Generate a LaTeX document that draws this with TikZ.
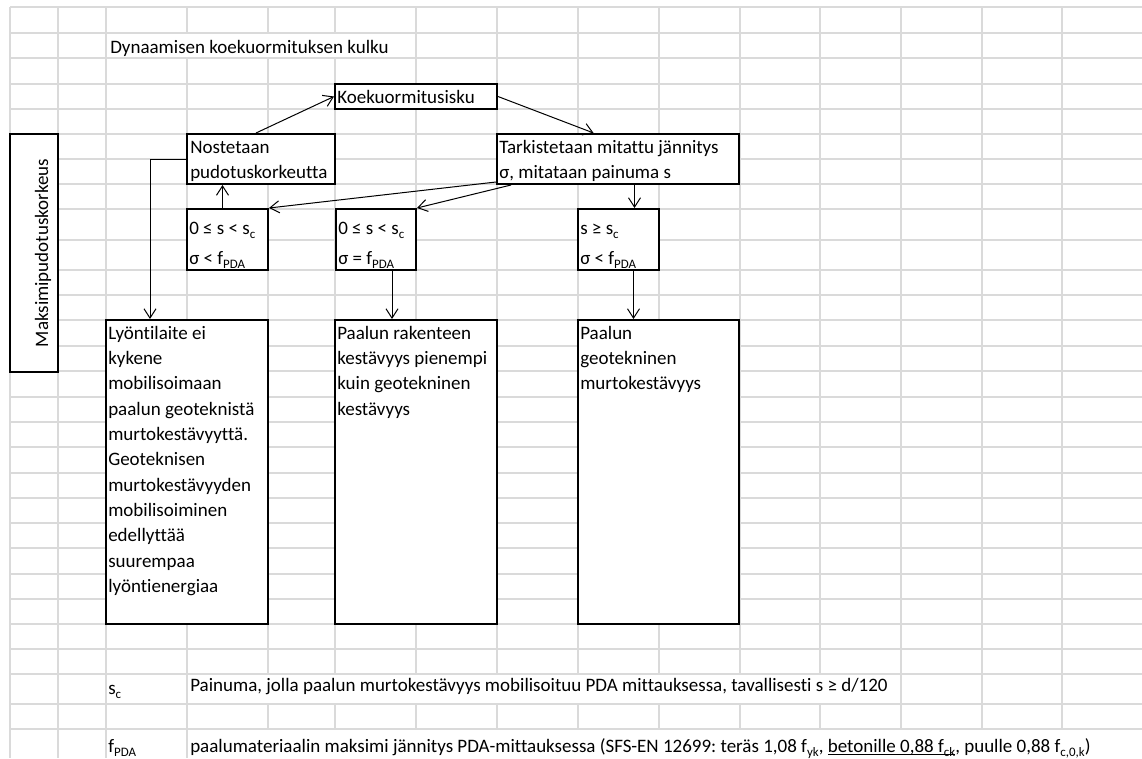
\documentclass[tikz,border=0pt]{standalone}
\usepackage{fontspec}
\setmainfont{Carlito}[Ligatures=NoCommon]
\usetikzlibrary{arrows.meta,calc,fit}
\definecolor{gridgray}{HTML}{DADADA}
\frenchspacing
\newcommand{\cellfont}{\fontsize{14.25}{19}\selectfont}
\newcommand{\lowidx}[1]{\raisebox{-3pt}{\fontsize{9.7}{10}\selectfont #1}}
\tikzset{
	cellline/.style={draw=gridgray,line width=1pt},
	box/.style={draw,fill=white,line width=1.5pt,inner sep=0pt},
	txt/.style={anchor=base west,inner sep=0pt,font=\cellfont},
	para/.style={txt,align=flush left,text width=7cm},
	arr/.style={line width=0.75pt,-{Straight Barb[length=7pt,width=9pt]}}
}
\begin{document}
\begin{tikzpicture}[x=0.75pt,y=-0.75pt]
		\useasboundingbox (0,0) rectangle (1142,758);
		\foreach \y in {7,33,58,84,109,134,159,184,209,240,270,295,320,346,371,397,422,447,473,498,523,548,574,599,624,649,674,704,729}
			\draw [cellline] (10,\y) -- (1142,\y);
		\foreach \x in {10,58,106}
			\draw [cellline] (\x,7) -- (\x,758);
		\draw [cellline] (187,7) -- (187,33) (187,58) -- (187,758);
		\foreach \x in {268,335}
			\draw [cellline] (\x,7) -- (\x,33) (\x,58) -- (\x,674) (\x,704) -- (\x,729);
		\foreach \x in {416,497,578,659,740,820}
			\draw [cellline] (\x,7) -- (\x,674) (\x,704) -- (\x,729);
		\foreach \x in {901,982,1062}
			\draw [cellline] (\x,7) -- (\x,729);
		
		\node [box,fit={(335,84) (497,109)}] (koe) {};
		\node [box,fit={(187,134) (335,184)}] (nosto) {};
		\node [box,fit={(497,134) (739,184)}] (tark) {};
		\node [box,fit={(187,209) (268,270)}] (ehtoA) {};
		\node [box,fit={(336,209) (416,270)}] (ehtoB) {};
		\node [box,fit={(578,209) (659,270)}] (ehtoC) {};
		\node [box,fit={(106,320) (268,624)}] (lyonti) {};
		\node [box,fit={(335,320) (497,624)}] (rakenne) {};
		\node [box,fit={(578,320) (739,624)}] (geotek) {};
		\node [box,fit={(10,134) (58,372)}] (maksimi) {};
		
		\node [txt] (otsikko) at (110,53) {Dynaamisen koekuormituksen kulku};
		\node [txt] (koe-t) at ($(koe.north west)+(3,20)$) {Koekuormitusisku};
		\node [para] (nosto-t) at ($(nosto.north west)+(4,20)$) {Nostetaan\\pudotuskorkeutta};
		\node [para] (tark-t) at ($(tark.north west)+(3,20)$) {Tarkistetaan mitattu jännitys\\σ, mitataan painuma s};
		\node [para,font=\fontsize{14.25}{22.5}\selectfont] (ehtoA-t) at ($(ehtoA.north west)+(3,26)$) {0 ≤ s < s\lowidx{c}\\σ < f\lowidx{PDA}};
		\node [para,font=\fontsize{14.25}{22.5}\selectfont] (ehtoB-t) at ($(ehtoB.north west)+(3,26)$) {0 ≤ s < s\lowidx{c}\\σ = f\lowidx{PDA}};
		\node [para,font=\fontsize{14.25}{22.5}\selectfont] (ehtoC-t) at ($(ehtoC.north west)+(3,26)$) {s ≥ s\lowidx{c}\\σ < f\lowidx{PDA}};
		\node [para] (lyonti-t) at ($(lyonti.north west)+(3,20)$) {Lyöntilaite ei\\kykene\\mobilisoimaan\\paalun geoteknistä\\murtokestävyyttä.\\Geoteknisen\\murtokestävyyden\\mobilisoiminen\\edellyttää\\suurempaa\\lyöntienergiaa};
		\node [para] (rakenne-t) at ($(rakenne.north west)+(3,20)$) {Paalun rakenteen\\kestävyys pienempi\\kuin geotekninen\\kestävyys};
		\node [para] (geotek-t) at ($(geotek.north west)+(3,20)$) {Paalun\\geotekninen\\murtokestävyys};
		\node [txt,anchor=base,rotate=90] (maksimi-t) at (48,253) {Maksimipudotuskorkeus};
		
		\node [txt] (sc) at (108,694) {s\lowidx{c}};
		\node [txt] (sc-t) at (190,691) {Painuma, jolla paalun murtokestävyys mobilisoituu PDA mittauksessa, tavallisesti s ≥ d/120};
		\node [txt] (fpda) at (108,752) {f\lowidx{PDA}};
		\node [txt] (fpda-t) at (190,752) {paalumateriaalin maksimi jännitys PDA-mittauksessa (SFS-EN 12699: teräs 1,08 f\lowidx{yk}, \underline{\smash{betonille 0,88 f\lowidx{ck}}}, puulle 0,88 f\lowidx{c,0,k})};
		
		\coordinate (c5) at ($(ehtoC.north)+(16,0)$);
		\coordinate (c6) at ($(ehtoA.north)+(-5,0)$);
		\coordinate (c7) at ($(ehtoB.south)+(16,0)$);
		\coordinate (c8) at ($(ehtoC.south)+(15,0)$);
		\coordinate (c9) at ($(lyonti.north west)+(45,0)$);
		\draw [arr] ($(nosto.north)+(-5,0)$) -- (koe.west);
		\draw [arr] (koe.east) -- ($(tark.north west)!0.4!(tark.north east)$);
		\draw [arr] ($(tark.south west)+(0,-3)$) -- (ehtoA.north east);
		\draw [arr] ($(tark.south west)+(15,0)$) -- (ehtoB.north east);
		\draw [arr] (c5 |- tark.south) -- (c5);
		\draw [arr] (c6) -- (c6 |- nosto.south);
		\draw [arr] (c7) -- (c7 |- rakenne.north);
		\draw [arr] (c8) -- (c8 |- geotek.north);
		\draw [arr] (nosto.west) -| (c9);
		
\end{tikzpicture}
\end{document}
